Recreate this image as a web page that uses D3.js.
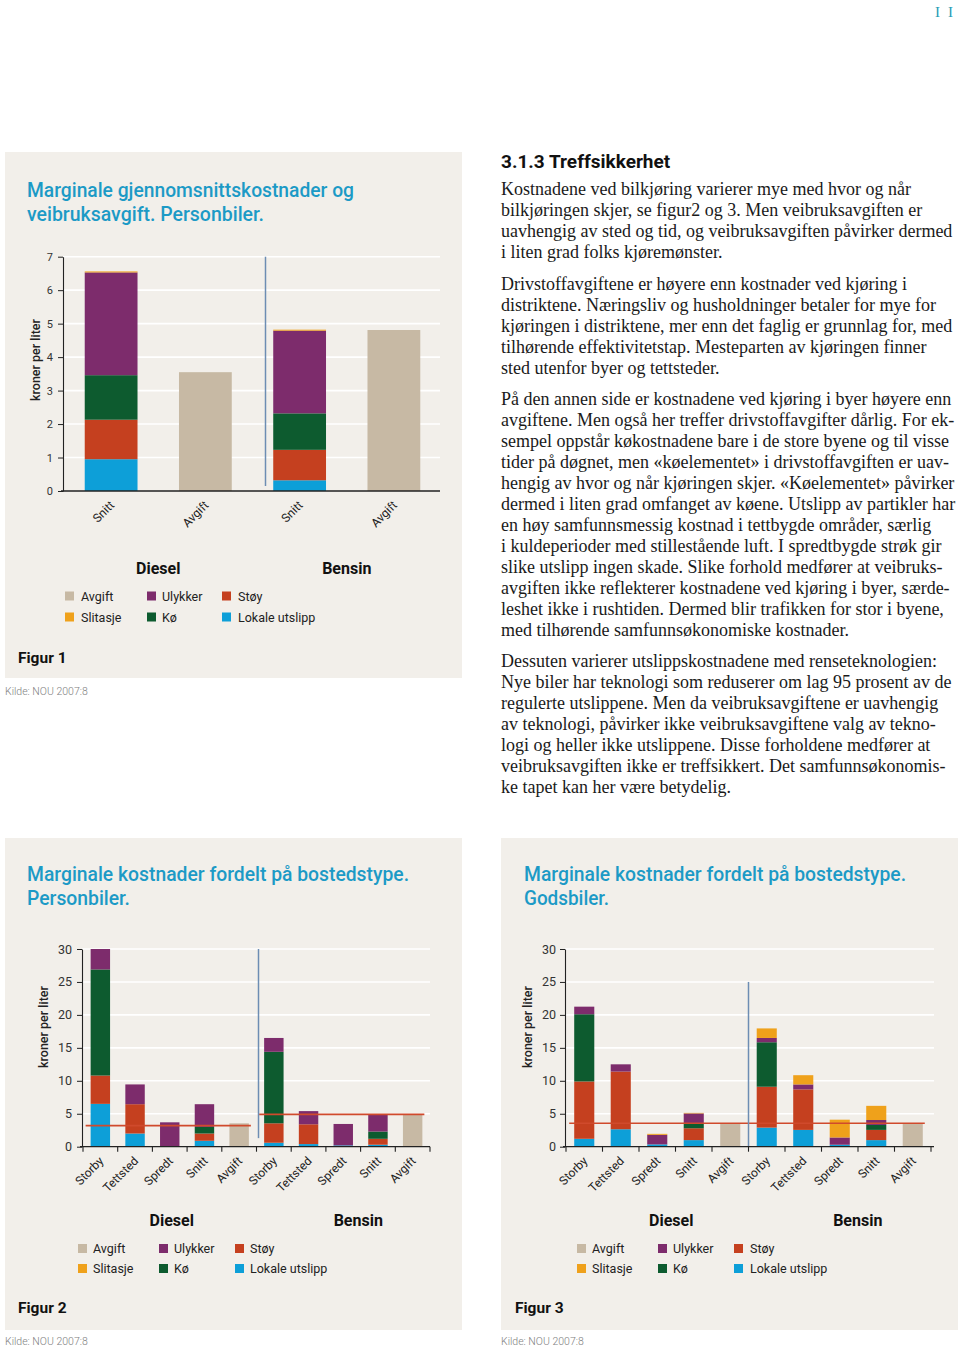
<!DOCTYPE html>
<html><head><meta charset="utf-8">
<script src="https://cdn.jsdelivr.net/npm/d3@7"></script>
<style>body{margin:0;background:#fff}svg{display:block}</style>
</head><body>
<svg id="page" width="960" height="1346"></svg>
<script>
// ---------- DATA ----------
const stackKeys = ["Lokale utslipp", "Støy", "Kø", "Ulykker", "Slitasje"];
const legendRows = [["Avgift", "Ulykker", "Støy"], ["Slitasje", "Kø", "Lokale utslipp"]];

// Figur 1
const fig1Categories = ["Snitt", "Avgift", "Snitt", "Avgift"];
const fig1Fuels = ["Diesel", "Diesel", "Bensin", "Bensin"];
const fig1Lokale = [0.95, 0, 0.32, 0];
const fig1Stoy = [1.18, 0, 0.91, 0];
const fig1Ko = [1.33, 0, 1.09, 0];
const fig1Ulykker = [3.07, 0, 2.47, 0];
const fig1Slitasje = [0.03, 0, 0.03, 0];
const fig1Avgift = [0, 3.55, 0, 4.81];
const fig1YTicks = [0, 1, 2, 3, 4, 5, 6, 7];

// Figur 2 og 3
const fig23Categories = ["Storby", "Tettsted", "Spredt", "Snitt", "Avgift", "Storby", "Tettsted", "Spredt", "Snitt", "Avgift"];
const fig23Fuels = ["Diesel", "Diesel", "Diesel", "Diesel", "Diesel", "Bensin", "Bensin", "Bensin", "Bensin", "Bensin"];
const fig23YTicks = [0, 5, 10, 15, 20, 25, 30];

const fig2Lokale = [6.5, 2.0, 0.1, 0.9, 0, 0.6, 0.4, 0.2, 0.3, 0];
const fig2Stoy = [4.3, 4.45, 0, 1.1, 0, 2.95, 3.0, 0, 0.9, 0];
const fig2Ko = [16.1, 0, 0, 1.0, 0, 10.85, 0, 0, 1.1, 0];
const fig2Ulykker = [3.1, 3.0, 3.6, 3.45, 0, 2.1, 2.0, 3.25, 2.6, 0];
const fig2Slitasje = [0, 0, 0, 0, 0, 0, 0, 0, 0, 0];
const fig2Avgift = [0, 0, 0, 0, 3.55, 0, 0, 0, 0, 4.9];
const fig2AvgiftLevel = [3.2, 4.9];   // Diesel, Bensin

const fig3Lokale = [1.2, 2.65, 0.35, 1.0, 0, 2.9, 2.55, 0.3, 1.0, 0];
const fig3Stoy = [8.7, 8.75, 0, 1.8, 0, 6.2, 6.15, 0, 1.55, 0];
const fig3Ko = [10.2, 0, 0, 0.75, 0, 6.75, 0, 0, 0.75, 0];
const fig3Ulykker = [1.15, 1.1, 1.45, 1.5, 0, 0.65, 0.75, 1.1, 0.75, 0];
const fig3Slitasje = [0, 0, 0.15, 0.08, 0, 1.45, 1.4, 2.7, 2.15, 0];
const fig3Avgift = [0, 0, 0, 0, 3.55, 0, 0, 0, 0, 3.55];
const fig3AvgiftLevel = [3.55];      // both

// Tekst
const headingText = "3.1.3 Treffsikkerhet";
const paragraphs = [
  ["Kostnadene ved bilkjøring varierer mye med hvor og når",
   "bilkjøringen skjer, se figur2 og 3. Men veibruksavgiften er",
   "uavhengig av sted og tid, og veibruksavgiften påvirker dermed",
   "i liten grad folks kjøremønster."],
  ["Drivstoffavgiftene er høyere enn kostnader ved kjøring i",
   "distriktene. Næringsliv og husholdninger betaler for mye for",
   "kjøringen i distriktene, mer enn det faglig er grunnlag for, med",
   "tilhørende effektivitetstap. Mesteparten av kjøringen finner",
   "sted utenfor byer og tettsteder."],
  ["På den annen side er kostnadene ved kjøring i byer høyere enn",
   "avgiftene. Men også her treffer drivstoffavgifter dårlig. For ek-",
   "sempel oppstår køkostnadene bare i de store byene og til visse",
   "tider på døgnet, men «køelementet» i drivstoffavgiften er uav-",
   "hengig av hvor og når kjøringen skjer. «Køelementet» påvirker",
   "dermed i liten grad omfanget av køene. Utslipp av partikler har",
   "en høy samfunnsmessig kostnad i tettbygde områder, særlig",
   "i kuldeperioder med stillestående luft. I spredtbygde strøk gir",
   "slike utslipp ingen skade. Slike forhold medfører at veibruks-",
   "avgiften ikke reflekterer kostnadene ved kjøring i byer, særde-",
   "leshet ikke i rushtiden. Dermed blir trafikken for stor i byene,",
   "med tilhørende samfunnsøkonomiske kostnader."],
  ["Dessuten varierer utslippskostnadene med renseteknologien:",
   "Nye biler har teknologi som reduserer om lag 95 prosent av de",
   "regulerte utslippene. Men da veibruksavgiftene er uavhengig",
   "av teknologi, påvirker ikke veibruksavgiftene valg av tekno-",
   "logi og heller ikke utslippene. Disse forholdene medfører at",
   "veibruksavgiften ikke er treffsikkert. Det samfunnsøkonomis-",
   "ke tapet kan her være betydelig."]
];

// ---------- STYLE ----------
const COLORS = {
  "Avgift": "#c7b9a4", "Slitasje": "#efa11b", "Ulykker": "#7d2c6c",
  "Kø": "#0d5b2f", "Støy": "#c5401f", "Lokale utslipp": "#0d9fd8"
};
const SANS = "Roboto, 'Noto Sans', sans-serif";
const SERIF = "'Liberation Serif', 'DejaVu Serif', serif";
const PANEL = "#f2efea";
const TITLE = "#1c9ac6";
const REDLINE = "#d04a2c";
const DIVIDER = "#6d8db3";

const svg = d3.select("#page");
svg.append("rect").attr("width", 960).attr("height", 1346).attr("fill", "#fff");

svg.append("text").attr("x", 935).attr("y", 17).attr("font-family", SERIF)
  .attr("font-size", 15).attr("fill", "#2a9bb5").attr("letter-spacing", 8).text("II");

function makeRows(cats, fuels, lok, stoy, ko, uly, slit, avg) {
  return cats.map((c, i) => ({
    id: fuels[i] + "|" + c, cat: c, fuel: fuels[i],
    "Lokale utslipp": lok[i], "Støy": stoy[i], "Kø": ko[i],
    "Ulykker": uly[i], "Slitasje": slit[i], "Avgift": avg[i]
  }));
}

function drawChart(c) {
  const g = svg.append("g");
  g.append("rect").attr("x", c.panel[0]).attr("y", c.panel[1])
    .attr("width", c.panel[2]).attr("height", c.panel[3]).attr("fill", PANEL);
  c.title.forEach((t, i) => g.append("text").attr("x", c.titleX).attr("y", c.titleY + i * 23.5)
    .attr("font-family", SANS).attr("font-weight", 500).attr("font-size", 19.5).attr("fill", TITLE)
    .attr("textLength", c.titleW[i]).attr("lengthAdjust", "spacingAndGlyphs").text(t));

  const x = d3.scaleBand().domain(c.rows.map(r => r.id)).range(c.xRange)
    .paddingInner(c.pad).paddingOuter(c.pad / 2);
  const y = d3.scaleLinear().domain([0, c.yMax]).range(c.yRange);
  const y0 = y(0);
  const bw = x.bandwidth();

  // grid
  g.append("g").selectAll("line").data(c.ticks.filter(t => t > 0)).join("line")
    .attr("x1", c.axisX).attr("x2", c.axisEnd).attr("y1", d => y(d)).attr("y2", d => y(d))
    .attr("stroke", "#fff").attr("stroke-width", 1.6);

  // stacked bars
  const series = d3.stack().keys(stackKeys)(c.rows);
  g.append("g").selectAll("g").data(series).join("g").attr("fill", s => COLORS[s.key])
    .selectAll("rect").data(s => s.filter(d => d[1] > d[0])).join("rect")
    .attr("x", d => x(d.data.id)).attr("width", bw)
    .attr("y", d => y(d[1])).attr("height", d => y(d[0]) - y(d[1]));

  // avgift bars
  g.append("g").selectAll("rect").data(c.rows.filter(r => r.Avgift > 0)).join("rect")
    .attr("fill", COLORS.Avgift).attr("x", d => x(d.id)).attr("width", bw)
    .attr("y", d => y(d.Avgift)).attr("height", d => y0 - y(d.Avgift));

  // avgift level lines
  (c.avgLines || []).forEach(L => {
    const rs = c.rows.filter(r => L.fuels.includes(r.fuel));
    g.append("line").attr("x1", x(rs[0].id) - 5).attr("x2", x(rs[rs.length - 1].id) + bw + 2)
      .attr("y1", y(L.value)).attr("y2", y(L.value))
      .attr("stroke", REDLINE).attr("stroke-width", 1.6);
  });

  // divider
  const firstB = c.rows.find(r => r.fuel === "Bensin");
  const divX = x(firstB.id) - x.step() * c.pad / 2 + c.divOffset;
  g.append("line").attr("x1", divX).attr("x2", divX)
    .attr("y1", y(c.divRange[0])).attr("y2", y(c.divRange[1]))
    .attr("stroke", DIVIDER).attr("stroke-width", 1.5);

  // y axis
  const ax = g.append("g").attr("transform", `translate(${c.axisX},0)`)
    .call(d3.axisLeft(y).tickValues(c.ticks).tickFormat(d3.format("d"))
      .tickSize(c.tickLen).tickSizeOuter(0).tickPadding(c.tickPad));
  ax.attr("font-family", SANS).attr("font-size", c.tickFont);
  ax.select(".domain").attr("stroke", "#222").attr("stroke-width", 1.1);
  ax.selectAll(".tick line").attr("stroke", "#222");
  ax.selectAll(".tick text").attr("fill", "#333");

  // x axis line
  g.append("line").attr("x1", c.axisX - 2).attr("x2", c.axisEnd).attr("y1", y0).attr("y2", y0)
    .attr("stroke", "#222").attr("stroke-width", 1.3);
  if (c.xTicks) {
    const bounds = c.rows.map(r => x(r.id) - x.step() * c.pad / 2);
    bounds.push(c.xRange[1]);
    g.append("g").selectAll("line").data(bounds).join("line")
      .attr("x1", d => d).attr("x2", d => d).attr("y1", y0).attr("y2", y0 + 5)
      .attr("stroke", "#222").attr("stroke-width", 1.1);
  }

  // x labels
  g.append("g").selectAll("text").data(c.rows).join("text")
    .attr("transform", d => `translate(${x(d.id) + bw / 2 + c.labDx},${y0 + c.labDy}) rotate(-45)`)
    .attr("text-anchor", "end").attr("font-family", SANS).attr("font-size", 12).attr("fill", "#222")
    .text(d => d.cat);

  // y label
  g.append("text").attr("transform", `translate(${c.yLabel[0]},${c.yLabel[1]}) rotate(-90)`)
    .attr("text-anchor", "middle").attr("font-family", SANS).attr("font-weight", 500)
    .attr("font-size", 12.5).attr("fill", "#222").text("kroner per liter");

  // fuel labels
  ["Diesel", "Bensin"].forEach((f, i) => {
    const rs = c.rows.filter(r => r.fuel === f);
    const cx = d3.mean(rs, r => x(r.id) + bw / 2) + c.fuelDx[i];
    g.append("text").attr("x", cx).attr("y", c.fuelY).attr("text-anchor", "middle")
      .attr("font-family", SANS).attr("font-weight", 700).attr("font-size", 16).attr("fill", "#111").text(f);
  });

  // legend
  legendRows.forEach((row, ri) => row.forEach((k, ci) => {
    g.append("rect").attr("x", c.legSX[ci]).attr("y", c.legY[ri] - 9).attr("width", 9).attr("height", 9)
      .attr("fill", COLORS[k]);
    g.append("text").attr("x", c.legTX[ci]).attr("y", c.legY[ri]).attr("font-family", SANS)
      .attr("font-size", 12.5).attr("fill", "#222").text(k);
  }));

  g.append("text").attr("x", c.figur[0]).attr("y", c.figur[1]).attr("font-family", SANS)
    .attr("font-weight", 700).attr("font-size", 15.5).attr("fill", "#111").text(c.figurText);
  g.append("text").attr("x", c.kilde[0]).attr("y", c.kilde[1]).attr("font-family", SANS)
    .attr("font-weight", 300).attr("font-size", 10.5).attr("fill", "#808080").text("Kilde: NOU 2007:8");
}

// Figur 1
drawChart({
  panel: [5, 152, 457, 526],
  title: ["Marginale gjennomsnittskostnader og", "veibruksavgift. Personbiler."], titleW: [327, 237],
  titleX: 27, titleY: 197,
  rows: makeRows(fig1Categories, fig1Fuels, fig1Lokale, fig1Stoy, fig1Ko, fig1Ulykker, fig1Slitasje, fig1Avgift),
  xRange: [64, 441], pad: 0.44, yMax: 7, yRange: [491, 256.7], ticks: fig1YTicks,
  axisX: 63, axisEnd: 440, tickLen: 5, tickPad: 5, tickFont: 11,
  divOffset: 13, divRange: [7, 0.15], xTicks: false,
  labDx: 4, labDy: 15, yLabel: [40, 360], fuelY: 574, fuelDx: [0, 0],
  legSX: [65, 147, 222], legTX: [81, 162, 238], legY: [600.5, 621.5],
  figur: [18, 663], figurText: "Figur 1", kilde: [5, 695]
});

// Figur 2
drawChart({
  panel: [5, 838, 457, 492],
  title: ["Marginale kostnader fordelt på bostedstype.", "Personbiler."], titleW: [382, 103],
  titleX: 27, titleY: 881,
  rows: makeRows(fig23Categories, fig23Fuels, fig2Lokale, fig2Stoy, fig2Ko, fig2Ulykker, fig2Slitasje, fig2Avgift),
  avgLines: [{ fuels: ["Diesel"], value: fig2AvgiftLevel[0] }, { fuels: ["Bensin"], value: fig2AvgiftLevel[1] }],
  xRange: [83, 430], pad: 0.44, yMax: 30, yRange: [1146.7, 949], ticks: fig23YTicks,
  axisX: 82, axisEnd: 430, tickLen: 5, tickPad: 5, tickFont: 12.5,
  divOffset: 2, divRange: [30, 1.3], xTicks: true,
  labDx: 4, labDy: 15, yLabel: [48, 1027], fuelY: 1226, fuelDx: [2, 15],
  legSX: [78, 159, 235], legTX: [93, 174, 250], legY: [1253, 1273],
  figur: [18, 1313], figurText: "Figur 2", kilde: [5, 1344.5]
});

// Figur 3
drawChart({
  panel: [501, 838, 457, 492],
  title: ["Marginale kostnader fordelt på bostedstype.", "Godsbiler."], titleW: [382, 85],
  titleX: 524, titleY: 881,
  rows: makeRows(fig23Categories, fig23Fuels, fig3Lokale, fig3Stoy, fig3Ko, fig3Ulykker, fig3Slitasje, fig3Avgift),
  avgLines: [{ fuels: ["Diesel", "Bensin"], value: fig3AvgiftLevel[0] }],
  xRange: [566, 931], pad: 0.45, yMax: 30, yRange: [1146.7, 949], ticks: fig23YTicks,
  axisX: 565, axisEnd: 934, tickLen: 5, tickPad: 4, tickFont: 12.5,
  divOffset: 0, divRange: [25, 0], xTicks: true,
  labDx: 4, labDy: 15, yLabel: [532, 1027], fuelY: 1226, fuelDx: [14, 18],
  legSX: [577, 658, 734], legTX: [592, 673, 750], legY: [1253, 1273],
  figur: [515, 1313], figurText: "Figur 3", kilde: [501, 1344.5]
});

// Tekstkolonne
svg.append("text").attr("x", 501).attr("y", 168).attr("font-family", SANS).attr("font-weight", 700)
  .attr("font-size", 19).attr("fill", "#111").text(headingText);
const paraStarts = [195, 290, 405, 667];
paragraphs.forEach((p, pi) => {
  p.forEach((line, li) => {
    svg.append("text").attr("x", 501).attr("y", paraStarts[pi] + li * 21)
      .attr("font-family", SERIF).attr("font-size", 18).attr("fill", "#1a1a1a").text(line);
  });
});
</script>
</body></html>
